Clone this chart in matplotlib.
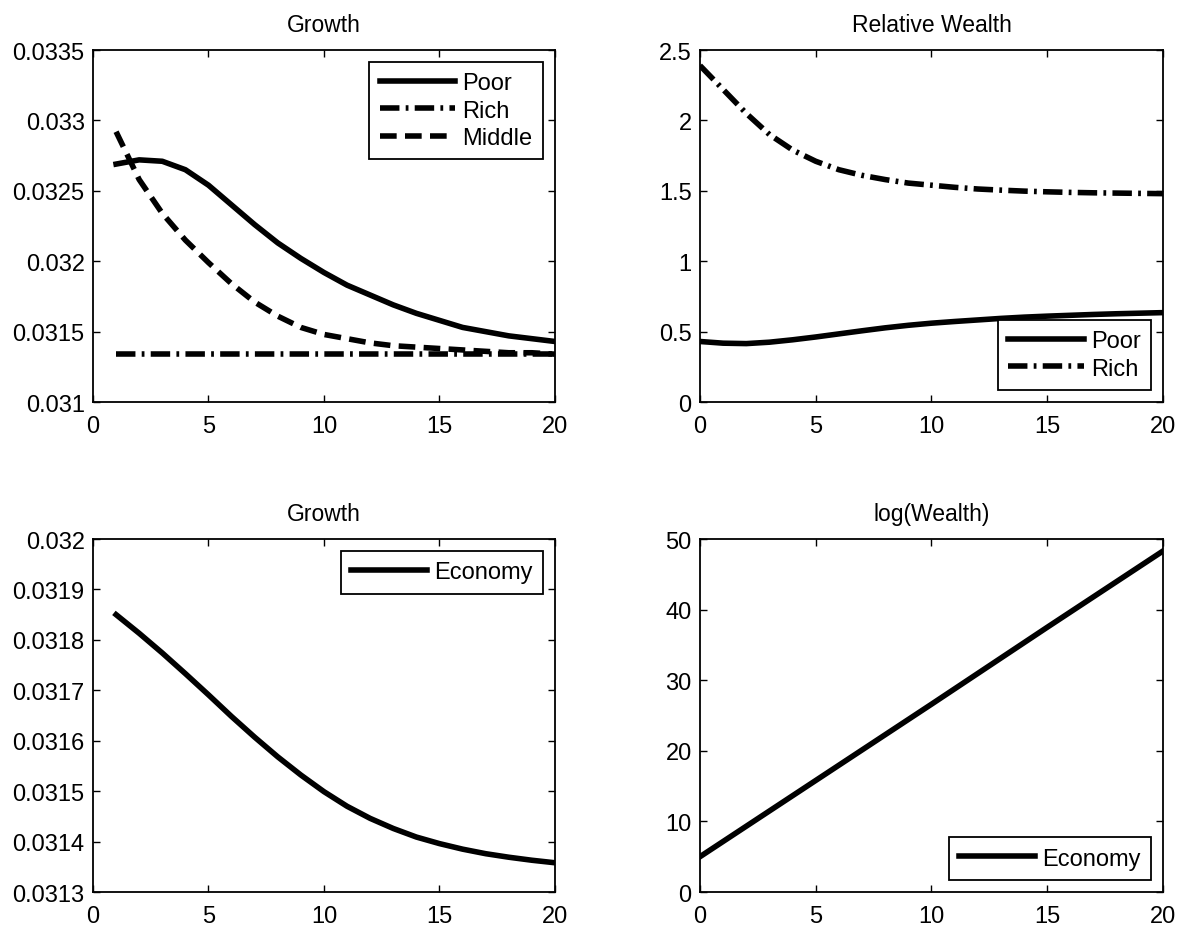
import matplotlib
matplotlib.use("Agg")
import matplotlib.pyplot as plt
import numpy as np

# growth by group (top left)
t_grp = [1, 2, 3, 4, 5, 6, 7, 8, 9, 10, 11, 12, 13, 14, 15, 16, 17, 18, 19, 20]
g_poor = [0.03269, 0.03272, 0.03271, 0.03265, 0.03254, 0.03240, 0.03226, 0.03213, 0.03202, 0.03192,
          0.03183, 0.03176, 0.03169, 0.03163, 0.03158, 0.03153, 0.03150, 0.03147, 0.03145, 0.03143]
g_rich = [0.03134] * 20
g_middle = [0.03292, 0.03258, 0.03234, 0.03215, 0.03199, 0.03184, 0.03171, 0.03161, 0.03153, 0.03148,
            0.03145, 0.03142, 0.03140, 0.03139, 0.03138, 0.03137, 0.03136, 0.03135, 0.03135, 0.03134]

# relative wealth (top right)
t_rw = [0, 1, 2, 3, 4, 5, 6, 7, 8, 9, 10, 11, 12, 13, 14, 15, 16, 17, 18, 19, 20]
rw_poor = [0.43, 0.418, 0.415, 0.425, 0.442, 0.462, 0.484, 0.506, 0.527, 0.545, 0.56, 0.572, 0.583,
           0.594, 0.603, 0.61, 0.616, 0.622, 0.627, 0.631, 0.635]
rw_rich = [2.39, 2.22, 2.05, 1.90, 1.79, 1.71, 1.65, 1.61, 1.58, 1.555, 1.54, 1.525, 1.513,
           1.505, 1.498, 1.493, 1.489, 1.486, 1.484, 1.482, 1.48]

# economy growth (bottom left)
t_eco = [1, 2, 3, 4, 5, 6, 7, 8, 9, 10, 11, 12, 13, 14, 15, 16, 17, 18, 19, 20]
g_eco = [0.031850, 0.031813, 0.031774, 0.031733, 0.031691, 0.031648, 0.031607, 0.031568, 0.031532, 0.031499,
         0.031470, 0.031446, 0.031426, 0.031409, 0.031396, 0.031385, 0.031376, 0.031369, 0.031363, 0.031358]

# log wealth (bottom right)
t_lw = [0, 5, 10, 15, 20]
log_w = [5.0, 15.8, 26.6, 37.5, 48.3]

plt.rcParams['font.family'] = ['Liberation Sans', 'DejaVu Sans']
plt.rcParams['font.size'] = 17
plt.rcParams['lines.scale_dashes'] = False

fig = plt.figure(figsize=(11.8, 9.28), dpi=100)
ax1 = fig.add_axes([0.0788, 0.5657, 0.3915, 0.3793])
ax2 = fig.add_axes([0.5932, 0.5657, 0.3924, 0.3793])
ax3 = fig.add_axes([0.0788, 0.0377, 0.3915, 0.3804])
ax4 = fig.add_axes([0.5932, 0.0377, 0.3924, 0.3804])

lw = 4
dashdot = (14, 4.5, 2, 4.5)
dashed = (12, 6)
title_fs = 16.5

ax1.plot(t_grp, g_poor, 'k-', lw=lw, label='Poor')
ax1.plot(t_grp, g_rich, 'k', lw=lw, dashes=dashdot, label='Rich')
ax1.plot(t_grp, g_middle, 'k', lw=lw, dashes=dashed, label='Middle')
ax1.set_ylim(0.031, 0.0335)
ax1.set_yticks([0.031, 0.0315, 0.032, 0.0325, 0.033, 0.0335])
ax1.set_yticklabels(['0.031', '0.0315', '0.032', '0.0325', '0.033', '0.0335'])
ax1.set_title('Growth', fontsize=title_fs, pad=14)

ax2.plot(t_rw, rw_poor, 'k-', lw=lw, label='Poor')
ax2.plot(t_rw, rw_rich, 'k', lw=lw, dashes=dashdot, label='Rich')
ax2.set_ylim(0, 2.5)
ax2.set_yticks([0, 0.5, 1, 1.5, 2, 2.5])
ax2.set_yticklabels(['0', '0.5', '1', '1.5', '2', '2.5'])
ax2.set_title('Relative Wealth', fontsize=title_fs, pad=14)

ax3.plot(t_eco, g_eco, 'k-', lw=lw, label='Economy')
ax3.set_ylim(0.0313, 0.032)
ax3.set_yticks([0.0313, 0.0314, 0.0315, 0.0316, 0.0317, 0.0318, 0.0319, 0.032])
ax3.set_yticklabels(['0.0313', '0.0314', '0.0315', '0.0316', '0.0317', '0.0318', '0.0319', '0.032'])
ax3.set_title('Growth', fontsize=title_fs, pad=14)

ax4.plot(t_lw, log_w, 'k-', lw=lw, label='Economy')
ax4.set_ylim(0, 50)
ax4.set_yticks([0, 10, 20, 30, 40, 50])
ax4.set_title('log(Wealth)', fontsize=title_fs, pad=14)

legend_locs = {ax1: 'upper right', ax2: 'lower right', ax3: 'upper right', ax4: 'lower right'}

for ax in [ax1, ax2, ax3, ax4]:
    ax.set_xlim(0, 20)
    ax.set_xticks([0, 5, 10, 15, 20])
    ax.tick_params(direction='in', top=True, right=True, length=5, width=1)
    ax.tick_params(axis='y', pad=6)
    ax.tick_params(axis='x', pad=9)
    for s in ax.spines.values():
        s.set_linewidth(1.3)
    leg = ax.legend(loc=legend_locs[ax], fontsize=17, handlelength=3.2, handletextpad=0.3,
                    labelspacing=0.22, borderpad=0.45, borderaxespad=0.5, fancybox=False,
                    edgecolor='black', framealpha=1)
    leg.get_frame().set_linewidth(1.3)

fig.savefig('out.png', dpi=100)
